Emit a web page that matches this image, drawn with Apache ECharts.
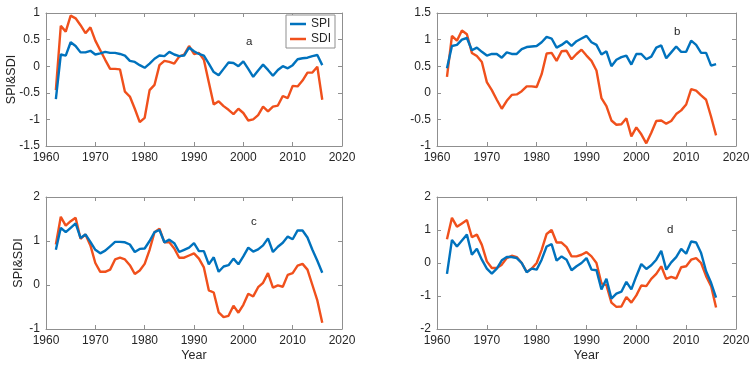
<!DOCTYPE html>
<html><head><meta charset="utf-8">
<script src="https://cdn.jsdelivr.net/npm/echarts@6/dist/echarts.min.js"></script>
<style>html,body{margin:0;padding:0;background:#fff}#c{width:754px;height:367px}</style>
</head><body><div id="c"></div>
<script>
var years = [];
for (var y = 1962; y <= 2016; y++) years.push(y);

var spiA = [-0.62,0.22,0.2,0.45,0.38,0.26,0.26,0.29,0.22,0.24,0.27,0.25,0.25,0.23,0.2,0.1,0.08,0.02,-0.03,0.05,0.14,0.2,0.19,0.27,0.22,0.19,0.2,0.35,0.28,0.23,0.2,0.05,-0.11,-0.17,-0.05,0.07,0.06,0.0,0.09,-0.05,-0.2,-0.08,0.03,-0.07,-0.18,-0.07,0.0,-0.04,0.02,0.13,0.15,0.16,0.19,0.21,0.02];
var sdiA = [-0.45,0.76,0.65,0.95,0.9,0.77,0.62,0.73,0.48,0.3,0.12,-0.05,-0.05,-0.06,-0.48,-0.57,-0.8,-1.05,-0.97,-0.45,-0.35,0.02,0.1,0.08,0.05,0.18,0.22,0.38,0.23,0.25,0.12,-0.3,-0.72,-0.66,-0.75,-0.82,-0.9,-0.8,-0.88,-1.02,-1.0,-0.92,-0.76,-0.85,-0.76,-0.74,-0.56,-0.6,-0.37,-0.38,-0.27,-0.12,-0.12,-0.01,-0.63];
var spiB = [0.46,0.88,0.9,1.0,1.03,0.8,0.85,0.77,0.7,0.73,0.73,0.66,0.76,0.73,0.73,0.82,0.86,0.87,0.88,0.95,1.05,1.02,0.85,0.9,0.97,0.88,0.97,1.02,1.07,0.95,0.9,0.72,0.78,0.5,0.62,0.67,0.7,0.53,0.73,0.73,0.63,0.68,0.85,0.89,0.65,0.76,0.87,0.77,0.77,0.98,0.9,0.75,0.75,0.51,0.54];
var sdiB = [0.3,1.07,0.98,1.17,1.1,0.75,0.69,0.58,0.2,0.05,-0.13,-0.3,-0.15,-0.04,-0.03,0.03,0.12,0.12,0.11,0.35,0.74,0.75,0.6,0.78,0.79,0.63,0.73,0.81,0.7,0.6,0.42,-0.1,-0.25,-0.52,-0.6,-0.59,-0.48,-0.82,-0.65,-0.78,-0.95,-0.75,-0.53,-0.52,-0.58,-0.53,-0.4,-0.33,-0.22,0.07,0.04,-0.05,-0.13,-0.45,-0.8];
var spiC = [0.8,1.3,1.2,1.3,1.4,1.07,1.15,0.98,0.8,0.72,0.78,0.88,0.98,0.98,0.97,0.92,0.75,0.82,0.83,1.0,1.2,1.25,0.97,1.03,0.95,0.75,0.8,0.85,0.95,0.77,0.77,0.47,0.63,0.3,0.42,0.45,0.6,0.47,0.65,0.85,0.76,0.81,0.9,1.06,0.75,0.87,0.96,1.1,1.04,1.24,1.24,1.08,0.8,0.55,0.28];
var sdiC = [0.92,1.55,1.35,1.45,1.53,1.05,1.15,0.9,0.5,0.3,0.3,0.35,0.58,0.62,0.58,0.45,0.25,0.33,0.48,0.8,1.2,1.28,0.97,0.97,0.83,0.62,0.62,0.67,0.72,0.6,0.4,-0.12,-0.17,-0.62,-0.73,-0.7,-0.47,-0.63,-0.45,-0.2,-0.26,-0.05,0.05,0.27,-0.06,-0.01,-0.04,0.23,0.27,0.44,0.48,0.35,0.0,-0.35,-0.86];
var spiD = [-0.33,0.7,0.5,0.68,0.86,0.25,0.43,0.1,-0.17,-0.32,-0.17,0.08,0.18,0.18,0.15,0.0,-0.28,-0.17,-0.2,0.1,0.5,0.57,0.07,0.2,0.1,-0.22,-0.1,0.0,0.15,-0.2,-0.22,-0.8,-0.48,-1.08,-0.93,-0.87,-0.57,-0.8,-0.4,-0.03,-0.18,-0.07,0.1,0.37,-0.2,0.02,0.18,0.43,0.28,0.65,0.62,0.3,-0.25,-0.6,-1.05];
var sdiD = [0.72,1.37,1.1,1.2,1.3,0.78,0.86,0.55,0.05,-0.15,-0.15,-0.05,0.15,0.22,0.18,0.0,-0.27,-0.17,0.0,0.4,0.88,1.0,0.62,0.62,0.48,0.2,0.2,0.25,0.33,0.2,0.0,-0.62,-0.67,-1.2,-1.33,-1.32,-1.03,-1.2,-0.98,-0.68,-0.7,-0.48,-0.33,-0.1,-0.48,-0.42,-0.47,-0.13,-0.1,0.1,0.15,0.0,-0.4,-0.7,-1.35];

var xTicks = {min: 1960, max: 2020, interval: 10};
var panelLetters = ['a', 'b', 'c', 'd'];
var yRanges = [
  {min: -1.5, max: 1, interval: 0.5},
  {min: -1, max: 1.5, interval: 0.5},
  {min: -1, max: 2, interval: 1},
  {min: -2, max: 2, interval: 1}
];
var spiSets = [spiA, spiB, spiC, spiD];
var sdiSets = [sdiA, sdiB, sdiC, sdiD];

var BLUE = '#0072BD', ORANGE = '#F0501C', AX = '#8f8f8f', TXT = '#262626';
var FONT = 'Liberation Sans, Arial, sans-serif';

var grids = [
  {left: 46, top: 13, width: 296, height: 133},
  {left: 437, top: 13, width: 299, height: 133},
  {left: 46, top: 197, width: 296, height: 132},
  {left: 437, top: 197, width: 299, height: 132}
];
var letterPos = [[249, 43], [677, 33], [254, 223], [670, 231]];
var yNameGaps = [28, 0, 21, 0];

function plainNum(v) { return String(v); }

var xAxes = [], yAxes = [], series = [], graphics = [];
grids.forEach(function (g, i) {
  g.show = false;
  var bottomRow = i >= 2, leftCol = (i % 2 === 0);
  xAxes.push({
    type: 'value', gridIndex: i, min: xTicks.min, max: xTicks.max, interval: xTicks.interval,
    position: 'bottom',
    axisLine: {show: true, onZero: false, lineStyle: {color: AX, width: 1}},
    axisTick: {show: true, inside: true, length: 4, lineStyle: {color: AX}},
    axisLabel: {color: TXT, fontSize: 12, fontFamily: FONT, margin: 6, formatter: plainNum},
    splitLine: {show: false},
    name: bottomRow ? 'Year' : '', nameLocation: 'middle', nameGap: 20, nameMoveOverlap: false,
    nameTextStyle: {color: TXT, fontSize: 12.5, fontFamily: FONT}
  });
  xAxes.push({
    type: 'value', gridIndex: i, min: xTicks.min, max: xTicks.max, interval: xTicks.interval,
    position: 'top',
    axisLine: {show: true, onZero: false, lineStyle: {color: AX, width: 1}},
    axisTick: {show: true, inside: true, length: 4, lineStyle: {color: AX}},
    axisLabel: {show: false}, splitLine: {show: false}
  });
  var r = yRanges[i];
  yAxes.push({
    type: 'value', gridIndex: i, min: r.min, max: r.max, interval: r.interval,
    position: 'left',
    axisLine: {show: true, onZero: false, lineStyle: {color: AX, width: 1}},
    axisTick: {show: true, inside: true, length: 4, lineStyle: {color: AX}},
    axisLabel: {color: TXT, fontSize: 12, fontFamily: FONT, margin: 6, formatter: plainNum},
    splitLine: {show: false},
    name: leftCol ? 'SPI&SDI' : '', nameLocation: 'middle', nameGap: yNameGaps[i], nameMoveOverlap: false,
    nameTextStyle: {color: TXT, fontSize: 12.5, fontFamily: FONT}
  });
  yAxes.push({
    type: 'value', gridIndex: i, min: r.min, max: r.max, interval: r.interval,
    position: 'right',
    axisLine: {show: true, onZero: false, lineStyle: {color: AX, width: 1}},
    axisTick: {show: true, inside: true, length: 4, lineStyle: {color: AX}},
    axisLabel: {show: false}, splitLine: {show: false}
  });
  series.push({
    name: 'SPI', type: 'line', xAxisIndex: 2 * i, yAxisIndex: 2 * i,
    data: years.map(function (yr, k) { return [yr, spiSets[i][k]]; }),
    symbol: 'none', lineStyle: {color: BLUE, width: 2.4}, itemStyle: {color: BLUE},
    z: 3, animation: false
  });
  series.push({
    name: 'SDI', type: 'line', xAxisIndex: 2 * i, yAxisIndex: 2 * i,
    data: years.map(function (yr, k) { return [yr, sdiSets[i][k]]; }),
    symbol: 'none', lineStyle: {color: ORANGE, width: 2.4}, itemStyle: {color: ORANGE},
    z: 2, animation: false
  });
  graphics.push({
    type: 'text', left: letterPos[i][0] - 3, top: letterPos[i][1] - 7,
    style: {text: panelLetters[i], fill: TXT, font: '11.5px ' + FONT}
  });
});

var chart = echarts.init(document.getElementById('c'), null, {renderer: 'canvas'});
chart.setOption({
  animation: false,
  backgroundColor: '#fff',
  grid: grids,
  xAxis: xAxes,
  yAxis: yAxes,
  series: series,
  legend: {
    data: ['SPI', 'SDI'], orient: 'vertical', left: 286, top: 15,
    backgroundColor: '#fff', borderColor: AX, borderWidth: 1, padding: [3, 4, 3, 4],
    itemGap: 3, itemWidth: 16, itemHeight: 2.5, icon: 'rect',
    textStyle: {color: TXT, fontSize: 12, fontFamily: FONT}
  },
  graphic: graphics
});
</script></body></html>
